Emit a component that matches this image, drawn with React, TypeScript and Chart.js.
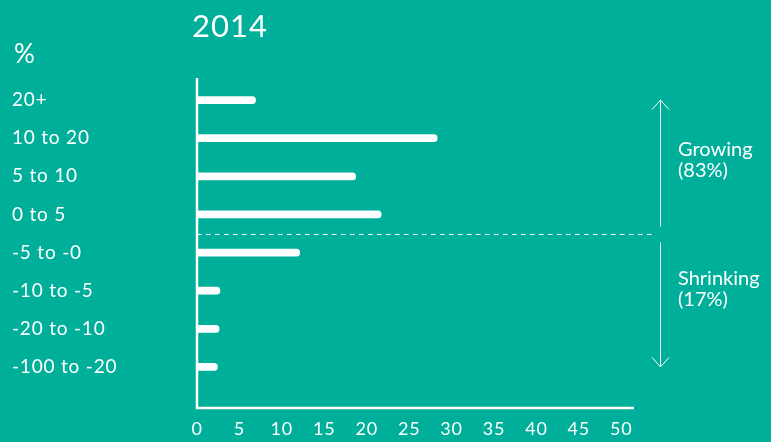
import React, { useEffect, useRef } from "react";
import { Chart, registerables } from "chart.js";

Chart.register(...registerables);

// ---- data ----
const categories = ["20+", "10 to 20", "5 to 10", "0 to 5", "-5 to -0", "-10 to -5", "-20 to -10", "-100 to -20"];
const shares2014 = [6.9, 28.3, 18.7, 21.7, 12.1, 2.7, 2.6, 2.4];
const xTickStep = 5;
const xMin = 0;
const xMax = 51.5;
const chartTitle = "2014";
const unitLabel = "%";
const growingLabel = ["Growing", "(83%)"];
const shrinkingLabel = ["Shrinking", "(17%)"];
const growingCount = 4;

const BG = "#00AF9A";
const FONT = "Lato, 'Noto Sans', sans-serif";

const spacingPlugin = {
  id: "spacing",
  beforeDraw(chart: any) {
    try {
      (chart.ctx as any).letterSpacing = "0.8px";
    } catch (e) {}
  },
};

const overlayPlugin = {
  id: "overlay",
  afterDatasetsDraw(chart: any) {
    const { ctx, chartArea, scales } = chart;
    const xs = scales.x;
    const ys = scales.y;
    const x0 = xs.getPixelForValue(0);
    const axisBottom = chartArea.bottom + 22;
    ctx.save();
    try {
      (ctx as any).letterSpacing = "0px";
    } catch (e) {}
    ctx.strokeStyle = "#ffffff";
    ctx.fillStyle = "#ffffff";

    // axes
    ctx.lineWidth = 2.5;
    ctx.beginPath();
    ctx.moveTo(x0, chartArea.top - 3);
    ctx.lineTo(x0, axisBottom);
    ctx.lineTo(chartArea.right, axisBottom);
    ctx.stroke();

    // divider
    const yDiv = Math.round((ys.getPixelForTick(growingCount - 1) + ys.getPixelForTick(growingCount)) / 2) + 0.5;
    ctx.lineWidth = 1;
    ctx.setLineDash([4.5, 4.5]);
    ctx.beginPath();
    ctx.moveTo(x0, yDiv);
    ctx.lineTo(chartArea.right + 18, yDiv);
    ctx.stroke();
    ctx.setLineDash([]);

    // arrows
    const ax = Math.round(chartArea.right + 26) + 0.5;
    const topTip = ys.getPixelForTick(0);
    const botTip = ys.getPixelForTick(categories.length - 1);
    ctx.beginPath();
    ctx.moveTo(ax, yDiv - 8);
    ctx.lineTo(ax, topTip);
    ctx.moveTo(ax - 8.5, topTip + 9.5);
    ctx.lineTo(ax, topTip);
    ctx.lineTo(ax + 8.5, topTip + 9.5);
    ctx.moveTo(ax, yDiv + 8);
    ctx.lineTo(ax, botTip);
    ctx.moveTo(ax - 8.5, botTip - 9.5);
    ctx.lineTo(ax, botTip);
    ctx.lineTo(ax + 8.5, botTip - 9.5);
    ctx.stroke();

    // annotations
    ctx.font = `20px ${FONT}`;
    ctx.textAlign = "left";
    ctx.textBaseline = "alphabetic";
    const tx = ax + 17.5;
    ctx.fillText(growingLabel[0], tx, yDiv - 79);
    ctx.fillText(growingLabel[1], tx, yDiv - 58);
    ctx.fillText(shrinkingLabel[0], tx, yDiv + 50);
    ctx.fillText(shrinkingLabel[1], tx, yDiv + 71);

    // title and unit
    try {
      (ctx as any).letterSpacing = "1px";
    } catch (e) {}
    ctx.font = `31px ${FONT}`;
    ctx.fillText(chartTitle, x0 - 5, 37);
    try {
      (ctx as any).letterSpacing = "0px";
    } catch (e) {}
    ctx.font = `26px ${FONT}`;
    ctx.fillText(unitLabel, 14, 63);
    ctx.restore();
  },
};

export default function App() {
  const ref = useRef<HTMLCanvasElement | null>(null);

  useEffect(() => {
    if (!ref.current) return;
    const chart = new Chart(ref.current, {
      type: "bar",
      data: {
        labels: categories,
        datasets: [
          {
            data: shares2014,
            backgroundColor: "#ffffff",
            borderWidth: 0,
            borderRadius: 4,
            barThickness: 7,
          },
        ],
      },
      options: {
        indexAxis: "y",
        responsive: false,
        animation: false,
        devicePixelRatio: 1,
        layout: { padding: { left: 12, right: 137, top: 81, bottom: 0 } },
        plugins: { legend: { display: false }, tooltip: { enabled: false }, title: { display: false } },
        scales: {
          x: {
            min: xMin,
            max: xMax,
            grid: { display: false, drawTicks: false },
            border: { display: false },
            afterFit: (scale: any) => {
              scale.height = 56;
            },
            ticks: {
              stepSize: xTickStep,
              includeBounds: false,
              maxRotation: 0,
              color: "#ffffff",
              padding: 32,
              font: { family: FONT, size: 18 },
            },
          },
          y: {
            grid: { display: false, drawTicks: false },
            border: { display: false },
            afterFit: (scale: any) => {
              scale.width = 185;
            },
            ticks: {
              crossAlign: "far",
              color: "#ffffff",
              padding: 0,
              font: { family: FONT, size: 19 },
            },
          },
        },
      },
      plugins: [spacingPlugin, overlayPlugin],
    } as any);
    return () => chart.destroy();
  }, []);

  return (
    <div style={{ position: "absolute", left: 0, top: 0, width: 771, height: 442, background: BG }}>
      <canvas ref={ref} width={771} height={442} style={{ display: "block" }} />
    </div>
  );
}
